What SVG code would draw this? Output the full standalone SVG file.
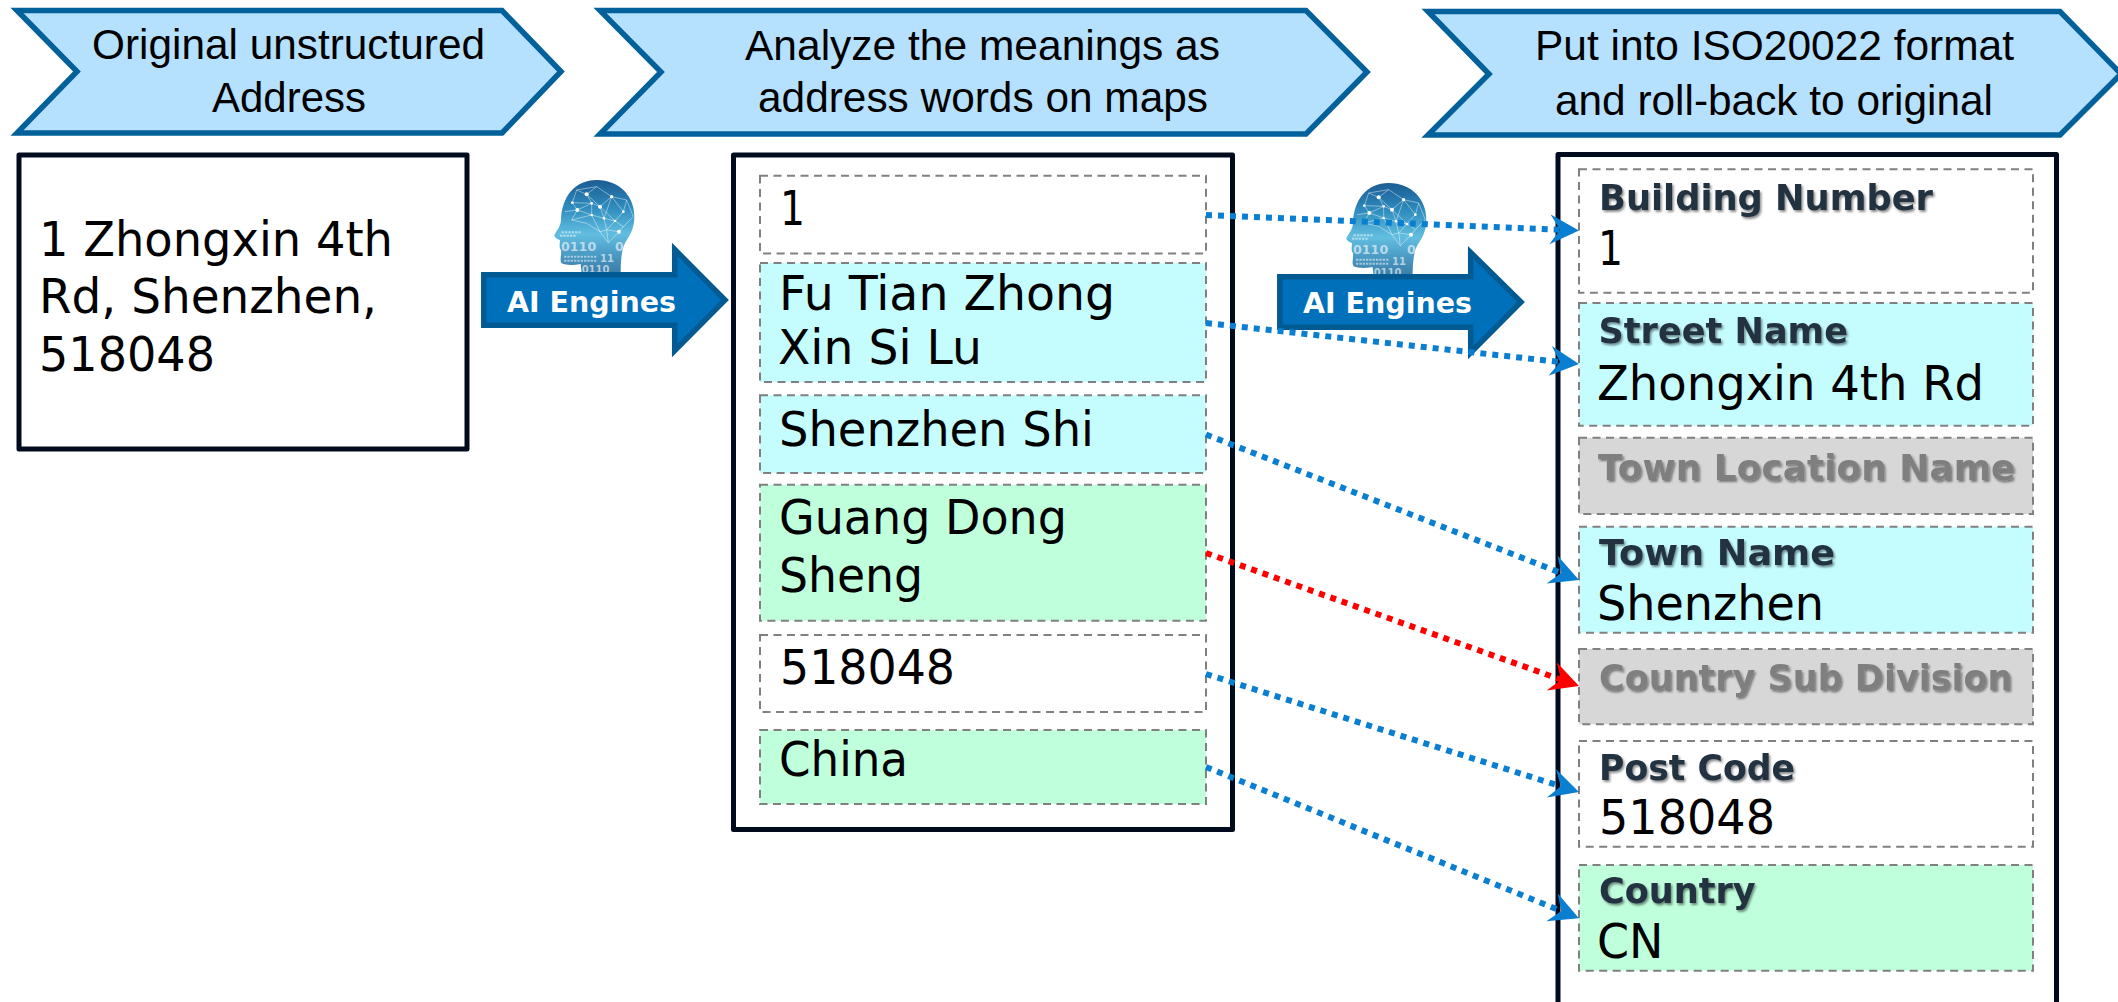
<svg xmlns="http://www.w3.org/2000/svg" width="2118" height="1002" viewBox="0 0 2118 1002">
<style>
.chev{fill:#B5E1FF;stroke:#02609A;stroke-width:5.5;stroke-linejoin:miter}
.hd{font-family:"Liberation Sans",Arial,sans-serif;font-size:42px;fill:#000}
.panel{fill:#fff;stroke:#020A1E;stroke-width:5;stroke-linejoin:round}
.row{stroke:#808080;stroke-width:2;stroke-dasharray:8 5.5}
.w{fill:#fff}.c{fill:#C5FDFF}.g{fill:#BFFFDC}.k{fill:#D7D7D7}
.val{font-family:"DejaVu Sans","Liberation Sans",sans-serif;font-size:47.5px;fill:#000}
.lab{font-family:"DejaVu Sans","Liberation Sans",sans-serif;font-size:35px;font-weight:700;fill:#22303F;filter:url(#sh)}
.off{fill:#7F7F7F}
.ai{fill:#0070BA;stroke:#025A92;stroke-width:5.5;stroke-linejoin:miter}
.ait{font-family:"DejaVu Sans","Liberation Sans",sans-serif;font-size:28px;font-weight:700;fill:#fff}
.lnk{fill:none;stroke-width:6;stroke-dasharray:6 6}
.b{stroke:#0A7FD1}.r{stroke:#FF0000}
.bin{font-family:"DejaVu Sans",sans-serif;font-weight:700;fill:#fff;fill-opacity:.6}
</style>
<defs>
<filter id="sh" x="-5%" y="-15%" width="110%" height="140%"><feDropShadow dx="1.5" dy="2" stdDeviation="1.2" flood-color="#000" flood-opacity=".45"/></filter>
<linearGradient id="hg" x1="0" y1="0" x2="0" y2="1">
<stop offset="0" stop-color="#1B5C94"/><stop offset=".3" stop-color="#2F8DBE"/><stop offset=".58" stop-color="#62BEE0"/><stop offset=".8" stop-color="#4A9AC4"/><stop offset="1" stop-color="#3A7CA8"/>
</linearGradient>
<marker id="ab" markerUnits="userSpaceOnUse" markerWidth="34" markerHeight="34" refX="10" refY="17" orient="auto"><path d="M0,2 L29,17 L0,32 L10,17 Z" fill="#0A7FD1"/></marker>
<marker id="ar" markerUnits="userSpaceOnUse" markerWidth="34" markerHeight="34" refX="10" refY="17" orient="auto"><path d="M0,2 L29,17 L0,32 L10,17 Z" fill="#FF0000"/></marker>
<g id="headicon">
<path d="M410,60 C480,60 523,110 523,170 C523,205 510,225 497,245 C488,262 482,285 482,340 L365,340 L362,312 C340,316 318,316 305,310 C298,300 305,285 303,270 C296,262 300,250 300,240 C292,238 282,232 283,225 C290,212 302,200 303,180 C305,110 345,60 410,60 Z" fill="url(#hg)"/>
<path d="M350,90 L410,80 L455,110 L500,120 L490,155 L465,183 L432,175 L420,140 L395,130 L380,103 L350,90 L337,128 L352,150 L395,165 L432,175 L440,210 L445,248 L477,215 L490,200 L465,183 M380,103 L420,140 L455,110 L490,155 M337,128 L395,130 L352,150 M395,130 L395,165 L420,215 L445,248 M420,140 L465,183 L440,210 L477,215 M420,215 L440,210 M410,80 L380,103 M500,120 L520,170 L490,200 M455,110 L432,175 M315,155 L352,150 L335,180 L395,165 M335,180 L380,190 L420,215" fill="none" stroke="#fff" stroke-width="1.6" stroke-opacity=".8"/>
<g fill="#fff"><circle cx="380" cy="103" r="6"/><circle cx="455" cy="110" r="5"/><circle cx="337" cy="128" r="4"/><circle cx="395" cy="130" r="4"/><circle cx="420" cy="140" r="6"/><circle cx="490" cy="155" r="4"/><circle cx="352" cy="150" r="6"/><circle cx="395" cy="165" r="4"/><circle cx="432" cy="175" r="4"/><circle cx="465" cy="183" r="4"/><circle cx="477" cy="215" r="6"/></g>
<text class="bin" x="303" y="274" font-size="38">0110</text>
<text class="bin" x="465" y="274" font-size="38">0</text>
<text class="bin" x="420" y="306" font-size="30">11</text>
<text class="bin" x="365" y="340" font-size="30">0110</text>
<path d="M305,217 H362 M300,227 H350 M312,290 H410 M312,302 H410" stroke="#fff" stroke-opacity=".5" stroke-width="6" stroke-dasharray="7 3" fill="none"/>
</g>
</defs>
<rect width="2118" height="1002" fill="#fff"/>

<g id="step1"><path class="chev" d="M17,10.5 H502 L561,71.5 L502,133 H17 L77,71.5 Z"/>
<text class="hd" x="92" y="59" textLength="393" lengthAdjust="spacingAndGlyphs">Original unstructured</text>
<text class="hd" x="212" y="112" textLength="154" lengthAdjust="spacingAndGlyphs">Address</text></g>
<g id="step2"><path class="chev" d="M600,10.5 H1306 L1367,72 L1306,134 H600 L661,72 Z"/>
<text class="hd" x="745" y="59.5" textLength="475" lengthAdjust="spacingAndGlyphs">Analyze the meanings as</text>
<text class="hd" x="758" y="112" textLength="450" lengthAdjust="spacingAndGlyphs">address words on maps</text></g>
<g id="step3"><path class="chev" d="M1428,11.5 H2060 L2121,74 L2060,135 H1428 L1489,74 Z"/>
<text class="hd" x="1535" y="60" textLength="479" lengthAdjust="spacingAndGlyphs">Put into ISO20022 format</text>
<text class="hd" x="1555" y="114.5" textLength="438" lengthAdjust="spacingAndGlyphs">and roll-back to original</text></g>

<g id="source"><rect class="panel" x="19" y="155" width="448" height="294"/>
<text class="val" x="39" y="255.5" textLength="354" lengthAdjust="spacingAndGlyphs">1 Zhongxin 4th</text>
<text class="val" x="39" y="312.5" textLength="338" lengthAdjust="spacingAndGlyphs">Rd, Shenzhen,</text>
<text class="val" x="39" y="370.5" textLength="176" lengthAdjust="spacingAndGlyphs">518048</text></g>

<g id="engine1"><use href="#headicon" transform="translate(460,160) scale(.33333)"/>
<path class="ai" d="M483.8,274.8 H674.7 V249.5 L725,300 L674.7,350.5 V325.2 H483.8 Z"/>
<text class="ait" x="507" y="312" textLength="169" lengthAdjust="spacingAndGlyphs">AI Engines</text></g>

<g id="middle"><rect class="panel" x="733.5" y="155" width="499" height="674.5"/>
<g id="m1"><rect class="row w" x="760" y="175.8" width="446" height="77.6"/><text class="val" x="780" y="225" textLength="25" lengthAdjust="spacingAndGlyphs">1</text></g>
<g id="m2"><rect class="row c" x="760" y="263" width="446" height="119"/><text class="val" x="779" y="310" textLength="336" lengthAdjust="spacingAndGlyphs">Fu Tian Zhong</text><text class="val" x="778" y="364" textLength="204" lengthAdjust="spacingAndGlyphs">Xin Si Lu</text></g>
<g id="m3"><rect class="row c" x="760" y="395.3" width="446" height="77.6"/><text class="val" x="779" y="445.5" textLength="315" lengthAdjust="spacingAndGlyphs">Shenzhen Shi</text></g>
<g id="m4"><rect class="row g" x="760" y="484.8" width="446" height="135.9"/><text class="val" x="779" y="534" textLength="288" lengthAdjust="spacingAndGlyphs">Guang Dong</text><text class="val" x="779" y="592" textLength="144" lengthAdjust="spacingAndGlyphs">Sheng</text></g>
<g id="m5"><rect class="row w" x="760" y="635" width="446" height="77"/><text class="val" x="780" y="684" textLength="175" lengthAdjust="spacingAndGlyphs">518048</text></g>
<g id="m6"><rect class="row g" x="760" y="730" width="446" height="74"/><text class="val" x="779" y="776" textLength="129" lengthAdjust="spacingAndGlyphs">China</text></g>
</g>

<g id="engine2"><use href="#headicon" transform="translate(1252,163) scale(.33333)"/>
<path class="ai" d="M1279.8,276.8 H1470.7 V252.5 L1521,302 L1470.7,352.5 V327.2 H1279.8 Z"/>
<text class="ait" x="1303" y="313" textLength="169" lengthAdjust="spacingAndGlyphs">AI Engines</text></g>

<g id="target"><rect class="panel" x="1558" y="154.5" width="498.5" height="870"/>
<g id="r1"><rect class="row w" x="1579" y="169.3" width="454" height="123.4"/><text class="lab" x="1599" y="210" textLength="334" lengthAdjust="spacingAndGlyphs">Building Number</text><text class="val" x="1598" y="264.5" textLength="25" lengthAdjust="spacingAndGlyphs">1</text></g>
<g id="r2"><rect class="row c" x="1579" y="303" width="454" height="122.7"/><text class="lab" x="1598.5" y="343.3" textLength="249.5" lengthAdjust="spacingAndGlyphs">Street Name</text><text class="val" x="1597" y="399.5" textLength="387" lengthAdjust="spacingAndGlyphs">Zhongxin 4th Rd</text></g>
<g id="r3"><rect class="row k" x="1579" y="437.7" width="454" height="76.3"/><text class="lab off" x="1598" y="479.5" textLength="417.5" lengthAdjust="spacingAndGlyphs">Town Location Name</text></g>
<g id="r4"><rect class="row c" x="1579" y="526.7" width="454" height="106"/><text class="lab" x="1599" y="565" textLength="236" lengthAdjust="spacingAndGlyphs">Town Name</text><text class="val" x="1597" y="620" textLength="227" lengthAdjust="spacingAndGlyphs">Shenzhen</text></g>
<g id="r5"><rect class="row k" x="1579" y="649" width="454" height="75.3"/><text class="lab off" x="1599" y="690" textLength="413.5" lengthAdjust="spacingAndGlyphs">Country Sub Division</text></g>
<g id="r6"><rect class="row w" x="1579" y="741" width="454" height="105.7"/><text class="lab" x="1599" y="780" textLength="196" lengthAdjust="spacingAndGlyphs">Post Code</text><text class="val" x="1599" y="834" textLength="176" lengthAdjust="spacingAndGlyphs">518048</text></g>
<g id="r7"><rect class="row g" x="1579" y="865" width="454" height="105.7"/><text class="lab" x="1599" y="902.7" textLength="156.6" lengthAdjust="spacingAndGlyphs">Country</text><text class="val" x="1597" y="958" textLength="66.5" lengthAdjust="spacingAndGlyphs">CN</text></g>
</g>

<g id="connectors">
<path class="lnk b" marker-end="url(#ab)" d="M1206,215 L1560,229.8"/>
<path class="lnk b" marker-end="url(#ab)" d="M1206,323 L1560.1,362"/>
<path class="lnk b" marker-end="url(#ab)" d="M1206,434.5 L1561.3,573.1"/>
<path class="lnk r" marker-end="url(#ar)" d="M1206,553 L1561.1,679.7"/>
<path class="lnk b" marker-end="url(#ab)" d="M1206,674 L1560.9,786.3"/>
<path class="lnk b" marker-end="url(#ab)" d="M1206,767 L1561.3,911"/>
</g>
</svg>
